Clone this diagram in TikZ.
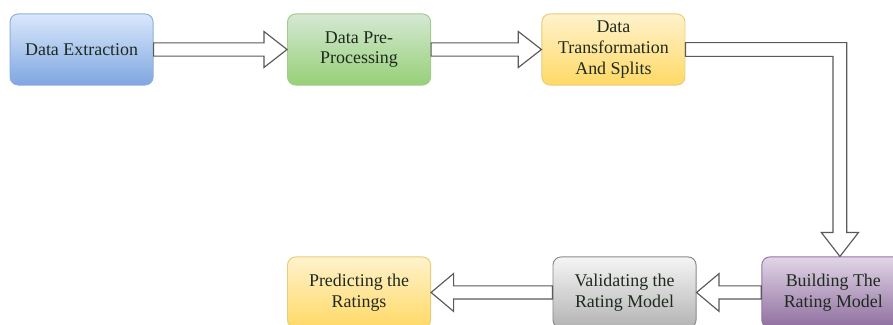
\documentclass[tikz,border=0pt]{standalone}
\usepackage{fontspec}
\setmainfont{Liberation Serif}
\newfontfamily\boxfont{Liberation Serif}
\usetikzlibrary{calc}

\definecolor{bluetop}{HTML}{DAE8FC}
\definecolor{bluebot}{HTML}{7EA6E0}
\definecolor{blueline}{HTML}{8DAEDD}
\definecolor{greentop}{HTML}{D5E8D4}
\definecolor{greenbot}{HTML}{97D077}
\definecolor{greenline}{HTML}{A3CB8C}
\definecolor{yellowtop}{HTML}{FFF2CC}
\definecolor{yellowbot}{HTML}{FFD966}
\definecolor{yellowline}{HTML}{E8CC7A}
\definecolor{graytop}{HTML}{F5F5F5}
\definecolor{graybot}{HTML}{B3B3B3}
\definecolor{grayline}{HTML}{8A8A8A}
\definecolor{purpletop}{HTML}{E1D5E7}
\definecolor{purplebot}{HTML}{8E6E9E}
\definecolor{purpleline}{HTML}{9673A6}
\definecolor{arrowgray}{HTML}{5A5A5A}
\definecolor{textdark}{HTML}{1E2A1E}

\begin{document}
\begin{tikzpicture}[
    stepbox/.style={rectangle, draw, line width=0.9pt, rounded corners=0.27cm, minimum width=4.77cm, minimum height=2.37cm, align=center, text=textdark, font=\boxfont\fontsize{17}{19.5}\selectfont},
    bluebox/.style={stepbox, draw=blueline, top color=bluetop, bottom color=bluebot},
    greenbox/.style={stepbox, draw=greenline, top color=greentop, bottom color=greenbot},
    yellowbox/.style={stepbox, draw=yellowline, top color=yellowtop, bottom color=yellowbot},
    graybox/.style={stepbox, draw=grayline, top color=graytop, bottom color=graybot},
    purplebox/.style={stepbox, draw=purpleline, top color=purpletop, bottom color=purplebot},
    hollow/.style={draw=arrowgray, line width=1.1pt, fill=white, line join=miter}
]
    \useasboundingbox (0,0) rectangle (29.77,-10.83);

    % Top row
    \node[bluebox] (extract) at (2.72,-1.65) {Data Extraction};
    \node[greenbox] (preproc) at (11.97,-1.65) {Data Pre-\\Processing};
    \node[yellowbox] (transform) at (20.45,-1.65) {Data\\Transformation\\And Splits};

    % Bottom row
    \node[purplebox] (building) at (27.78,-9.75) {Building The\\Rating Model};
    \node[graybox] (validate) at (20.82,-9.75) {Validating the\\Rating Model};
    \node[yellowbox] (predict) at (11.97,-9.75) {Predicting the\\Ratings};

    % Hollow block arrows, top row
    \draw[hollow] ($(extract.east)+(0,0.22)$) -- ($(preproc.west)+(-0.77,0.22)$) -- ++(0,0.38) -- (preproc.west) -- ++(-0.77,-0.6) -- ++(0,0.38) -- ($(extract.east)+(0,-0.22)$) -- cycle;
    \draw[hollow] ($(preproc.east)+(0,0.22)$) -- ($(transform.west)+(-0.77,0.22)$) -- ++(0,0.38) -- (transform.west) -- ++(-0.77,-0.6) -- ++(0,0.38) -- ($(preproc.east)+(0,-0.22)$) -- cycle;

    % Elbow arrow down to the bottom row
    \coordinate (bend) at (28.0,-1.65);
    \coordinate (droptip) at (building.north -| bend);
    \draw[hollow] ($(transform.east)+(0,0.23)$) -- ($(bend)+(0.23,0.23)$) -- ($(droptip)+(0.23,0.8)$) -- ++(0.39,0) -- (droptip) -- ++(-0.62,0.8) -- ++(0.39,0) -- ($(bend)+(-0.23,-0.23)$) -- ($(transform.east)+(0,-0.23)$) -- cycle;

    % Hollow block arrows, bottom row (right to left)
    \draw[hollow] ($(building.west)+(0,0.22)$) -- ($(validate.east)+(0.75,0.22)$) -- ++(0,0.41) -- (validate.east) -- ++(0.75,-0.63) -- ++(0,0.41) -- ($(building.west)+(0,-0.22)$) -- cycle;
    \draw[hollow] ($(validate.west)+(0,0.22)$) -- ($(predict.east)+(0.75,0.22)$) -- ++(0,0.41) -- (predict.east) -- ++(0.75,-0.63) -- ++(0,0.41) -- ($(validate.west)+(0,-0.22)$) -- cycle;

\end{tikzpicture}
\end{document}
